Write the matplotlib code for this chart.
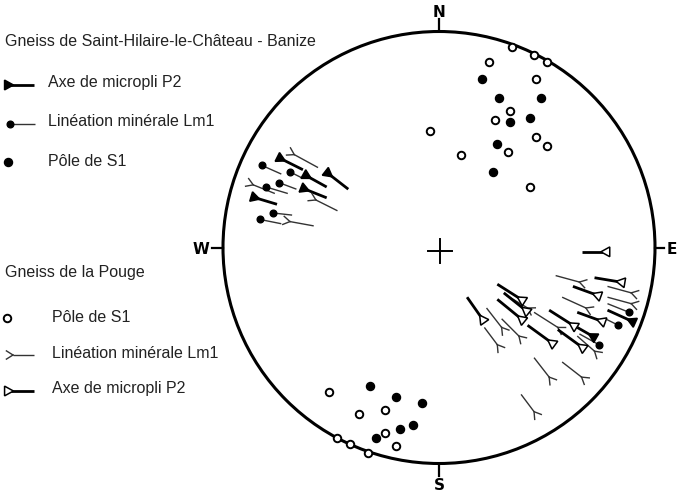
import numpy as np
import matplotlib
matplotlib.use("Agg")
import matplotlib.pyplot as plt
from matplotlib.patches import Circle, Polygon

# net positions, unit radius (x towards E, y towards N)

# Gneiss de Saint-Hilaire-le-Chateau - Banize (filled symbols)
sh_s1_x = [0.20, 0.28, 0.47, 0.33, 0.42, 0.27, 0.25,
           -0.32, -0.20, -0.08, -0.12, -0.18, -0.29]
sh_s1_y = [0.78, 0.69, 0.69, 0.58, 0.60, 0.48, 0.35,
           -0.64, -0.69, -0.72, -0.82, -0.84, -0.88]

sh_lm1_hx = [-0.82, -0.69, -0.80, -0.74, -0.77, -0.83, 0.88, 0.83, 0.74]
sh_lm1_hy = [0.38, 0.35, 0.28, 0.30, 0.16, 0.13, -0.30, -0.36, -0.45]
sh_lm1_tx = [-0.73, -0.63, -0.70, -0.66, -0.68, -0.73, 0.78, 0.77, 0.65]
sh_lm1_ty = [0.34, 0.32, 0.25, 0.27, 0.15, 0.11, -0.26, -0.33, -0.40]

sh_p2_hx = [-0.73, -0.61, -0.51, -0.62, -0.85, 0.89, 0.71]
sh_p2_hy = [0.41, 0.33, 0.34, 0.27, 0.23, -0.34, -0.41]
sh_p2_tx = [-0.63, -0.52, -0.42, -0.52, -0.75, 0.78, 0.64]
sh_p2_ty = [0.36, 0.28, 0.27, 0.23, 0.20, -0.29, -0.37]

# Gneiss de la Pouge (open symbols)
po_s1_x = [0.23, 0.45, 0.33, 0.26, -0.04, 0.45, 0.50, 0.32, 0.10, 0.42,
           0.34, 0.44, 0.50,
           -0.51, -0.37, -0.25, -0.25, -0.20, -0.47, -0.41, -0.33]
po_s1_y = [0.86, 0.78, 0.63, 0.59, 0.54, 0.51, 0.47, 0.44, 0.43, 0.28,
           0.93, 0.89, 0.86,
           -0.67, -0.77, -0.75, -0.86, -0.92, -0.88, -0.91, -0.95]

po_lm1_hx = [-0.67, -0.86, -0.57, -0.69, 0.65, 0.89, 0.68, 0.89, 0.55,
             0.72, 0.51, 0.66, 0.44, 0.29, 0.27, 0.37, 0.41]
po_lm1_hy = [0.43, 0.29, 0.22, 0.12, -0.16, -0.21, -0.28, -0.26, -0.37,
             -0.48, -0.60, -0.60, -0.76, -0.37, -0.45, -0.41, -0.28]
po_lm1_tx = [-0.56, -0.76, -0.47, -0.58, 0.54, 0.78, 0.57, 0.78, 0.44,
             0.64, 0.44, 0.57, 0.38, 0.22, 0.21, 0.29, 0.31]
po_lm1_ty = [0.37, 0.25, 0.17, 0.10, -0.13, -0.18, -0.23, -0.23, -0.30,
             -0.41, -0.51, -0.53, -0.68, -0.28, -0.37, -0.33, -0.22]

po_p2_hx = [0.77, 0.84, 0.73, 0.75, 0.62, 0.66, 0.52, 0.20, 0.38, 0.38, 0.40]
po_p2_hy = [-0.02, -0.16, -0.22, -0.34, -0.36, -0.46, -0.44, -0.33, -0.24, -0.33, -0.29]
po_p2_tx = [0.66, 0.72, 0.62, 0.64, 0.51, 0.55, 0.41, 0.13, 0.27, 0.27, 0.30]
po_p2_ty = [-0.02, -0.14, -0.18, -0.30, -0.29, -0.38, -0.36, -0.23, -0.17, -0.24, -0.21]

W, H = 688, 495
CX, CY, R = 439, 247.5, 216   # net centre and radius in pixels
TXT = '#222222'


def to_net(px, py):
    return (px - CX) / R, (CY - py) / R


def unit(hx, hy, tx, ty):
    d = np.array([hx - tx, hy - ty], dtype=float)
    return d / np.hypot(*d)


def tail_line(ax, hx, hy, tx, ty, lw, color):
    ax.plot([tx, hx], [ty, hy], color=color, lw=lw, solid_capstyle='butt', zorder=2)


def triangle(ax, hx, hy, tx, ty, filled, size=0.041):
    d = unit(hx, hy, tx, ty)
    n = np.array([-d[1], d[0]])
    c = np.array([hx, hy])
    apex = c - d * size * 0.5
    base = c + d * size * 0.5
    pts = [apex, base + n * size * 0.55, base - n * size * 0.55]
    ax.add_patch(Polygon(pts, closed=True, facecolor='black' if filled else 'white',
                         edgecolor='black', lw=1.1, zorder=3))


def fork(ax, hx, hy, tx, ty, size=0.036):
    d = unit(hx, hy, tx, ty)
    for a in (np.radians(32), -np.radians(32)):
        r = np.array([d[0] * np.cos(a) - d[1] * np.sin(a),
                      d[0] * np.sin(a) + d[1] * np.cos(a)])
        ax.plot([hx, hx + r[0] * size], [hy, hy + r[1] * size],
                color='#333333', lw=1.0, zorder=2)


def dot(ax, x, y, ms=5.8):
    ax.plot(x, y, 'o', ms=ms, color='black', zorder=3)


def ring(ax, x, y, ms=5.4):
    ax.plot(x, y, 'o', ms=ms, mfc='white', mec='black', mew=1.4, zorder=3)


fig = plt.figure(figsize=(W / 100, H / 100), dpi=100)
ax = fig.add_axes([0, 0, 1, 1])
ax.set_xlim(-CX / R, (W - CX) / R)
ax.set_ylim((CY - H) / R, CY / R)
ax.axis('off')

# primitive circle, ticks, centre cross
ax.add_patch(Circle((0, 0), 1, fill=False, lw=2.2, color='black'))
ax.plot([0, 0], [1, 1.06], color='black', lw=1.6)
ax.plot([0, 0], [-1, -1.06], color='black', lw=1.6)
ax.plot([-1, -1.05], [0, 0], color='black', lw=1.6)
ax.plot([1, 1.04], [0, 0], color='black', lw=1.6)
ax.plot([-0.05, 0.06], [-0.016, -0.016], color='black', lw=1.4)
ax.plot([0.005, 0.005], [-0.07, 0.04], color='black', lw=1.4)
for s, x, y in [('N', 0, 1.09), ('S', 0, -1.10), ('W', -1.10, -0.01), ('E', 1.08, -0.01)]:
    ax.text(x, y, s, ha='center', va='center', fontsize=11, fontweight='bold',
            family='DejaVu Sans')

# Saint-Hilaire
dot(ax, sh_s1_x, sh_s1_y)
for hx, hy, tx, ty in zip(sh_lm1_hx, sh_lm1_hy, sh_lm1_tx, sh_lm1_ty):
    tail_line(ax, hx, hy, tx, ty, 1.0, '#333333')
    dot(ax, hx, hy, ms=4.8)
for hx, hy, tx, ty in zip(sh_p2_hx, sh_p2_hy, sh_p2_tx, sh_p2_ty):
    tail_line(ax, hx, hy, tx, ty, 2.0, 'black')
    triangle(ax, hx, hy, tx, ty, True)

# Pouge
ring(ax, po_s1_x, po_s1_y)
for hx, hy, tx, ty in zip(po_lm1_hx, po_lm1_hy, po_lm1_tx, po_lm1_ty):
    tail_line(ax, hx, hy, tx, ty, 1.0, '#333333')
    fork(ax, hx, hy, tx, ty)
for hx, hy, tx, ty in zip(po_p2_hx, po_p2_hy, po_p2_tx, po_p2_ty):
    tail_line(ax, hx, hy, tx, ty, 2.0, 'black')
    triangle(ax, hx, hy, tx, ty, False)

# legend
def label(px, py, s):
    fig.text(px / W, 1 - py / H, s, ha='left', va='center', fontsize=11.5,
             family='Liberation Sans', color=TXT)


label(5, 42, 'Gneiss de Saint-Hilaire-le-Château - Banize')
label(48, 82, 'Axe de micropli P2')
label(48, 122, 'Linéation minérale Lm1')
label(48, 162, 'Pôle de S1')
label(5, 273, 'Gneiss de la Pouge')
label(52, 317, 'Pôle de S1')
label(52, 353, 'Linéation minérale Lm1')
label(52, 389, 'Axe de micropli P2')

hx, hy = to_net(9, 85)
tx, ty = to_net(34, 85)
tail_line(ax, hx, hy, tx, ty, 2.0, 'black')
triangle(ax, hx, hy, tx, ty, True)

hx, hy = to_net(10, 124)
tx, ty = to_net(35, 124)
tail_line(ax, hx, hy, tx, ty, 1.0, '#333333')
dot(ax, hx, hy, ms=4.8)

dot(ax, *to_net(8, 162))
ring(ax, *to_net(7, 318))

hx, hy = to_net(13, 355)
tx, ty = to_net(34, 355)
tail_line(ax, hx, hy, tx, ty, 1.0, '#333333')
fork(ax, hx, hy, tx, ty)

hx, hy = to_net(9, 391)
tx, ty = to_net(34, 391)
tail_line(ax, hx, hy, tx, ty, 2.0, 'black')
triangle(ax, hx, hy, tx, ty, False)

fig.savefig('out.png', dpi=100)
